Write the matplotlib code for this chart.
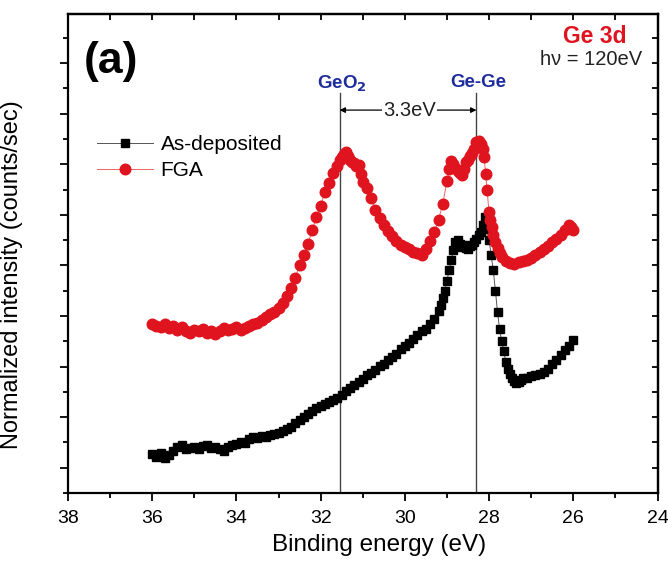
import matplotlib
matplotlib.use('Agg')
from matplotlib import pyplot as plt
from matplotlib.ticker import MultipleLocator, NullFormatter

plt.rcParams['font.family'] = ['Liberation Sans', 'DejaVu Sans']

# As-deposited (binding energy eV, normalized intensity a.u.)
asdep_e = [36.00, 35.90, 35.80, 35.70, 35.60, 35.50, 35.40, 35.30, 35.20, 35.10,
           35.00, 34.90, 34.80, 34.70, 34.60, 34.50, 34.40, 34.30, 34.20, 34.10,
           34.00, 33.90, 33.80, 33.70, 33.60, 33.50, 33.40, 33.30, 33.20, 33.10,
           33.00, 32.90, 32.80, 32.70, 32.60, 32.50, 32.40, 32.30, 32.20, 32.10,
           32.00, 31.90, 31.80, 31.70, 31.60, 31.50, 31.40, 31.30, 31.20, 31.10,
           31.00, 30.90, 30.80, 30.70, 30.60, 30.50, 30.40, 30.30, 30.20, 30.10,
           30.00, 29.90, 29.80, 29.70, 29.60, 29.50, 29.40, 29.30, 29.20, 29.15,
           29.10, 29.05, 29.00, 28.95, 28.90, 28.85, 28.80, 28.75, 28.70, 28.65,
           28.60, 28.55, 28.50, 28.45, 28.40, 28.35, 28.30, 28.25, 28.20, 28.15,
           28.10, 28.05, 28.00, 27.95, 27.90, 27.85, 27.80, 27.75, 27.70, 27.65,
           27.60, 27.55, 27.50, 27.45, 27.40, 27.35, 27.30, 27.25, 27.20, 27.10,
           27.00, 26.90, 26.80, 26.70, 26.60, 26.50, 26.40, 26.30, 26.20, 26.10,
           26.00]
asdep_i = [0.28, 0.22, 0.30, 0.20, 0.26, 0.34, 0.40, 0.44, 0.36, 0.38,
           0.40, 0.36, 0.42, 0.44, 0.38, 0.40, 0.36, 0.34, 0.40, 0.44,
           0.46, 0.50, 0.48, 0.56, 0.60, 0.58, 0.62, 0.60, 0.64, 0.66,
           0.68, 0.72, 0.76, 0.80, 0.88, 0.94, 1.00, 1.06, 1.12, 1.18,
           1.22, 1.26, 1.30, 1.34, 1.38, 1.44, 1.52, 1.58, 1.64, 1.70,
           1.76, 1.83, 1.88, 1.94, 2.02, 2.06, 2.12, 2.18, 2.24, 2.34,
           2.40, 2.46, 2.54, 2.62, 2.70, 2.74, 2.84, 2.94, 3.10, 3.22,
           3.36, 3.50, 3.70, 3.90, 4.10, 4.30, 4.46, 4.50, 4.42, 4.36,
           4.40, 4.34, 4.32, 4.38, 4.40, 4.46, 4.52, 4.60, 4.66, 4.80,
           4.95, 4.72, 4.50, 4.20, 3.90, 3.50, 3.08, 2.74, 2.50, 2.30,
           2.08, 1.95, 1.86, 1.78, 1.72, 1.68, 1.70, 1.74, 1.78, 1.78,
           1.82, 1.84, 1.86, 1.90, 1.96, 2.06, 2.12, 2.22, 2.32, 2.40,
           2.52]

# FGA
fga_e = [36.00, 35.90, 35.80, 35.70, 35.60, 35.50, 35.40, 35.30, 35.20, 35.10,
         35.00, 34.90, 34.80, 34.70, 34.60, 34.50, 34.40, 34.30, 34.20, 34.10,
         34.00, 33.90, 33.80, 33.70, 33.60, 33.50, 33.40, 33.30, 33.20, 33.10,
         33.00, 32.90, 32.80, 32.70, 32.60, 32.50, 32.40, 32.30, 32.20, 32.10,
         32.00, 31.90, 31.80, 31.70, 31.60, 31.55, 31.50, 31.45, 31.40, 31.35,
         31.30, 31.25, 31.20, 31.15, 31.10, 31.05, 31.00, 30.90, 30.80, 30.70,
         30.60, 30.50, 30.40, 30.30, 30.20, 30.10, 30.00, 29.90, 29.80, 29.70,
         29.60, 29.50, 29.40, 29.30, 29.20, 29.10, 29.00, 28.95, 28.90, 28.85,
         28.80, 28.75, 28.70, 28.65, 28.60, 28.55, 28.50, 28.45, 28.40, 28.35,
         28.30, 28.25, 28.20, 28.15, 28.12, 28.08, 28.05, 28.00, 27.97, 27.94,
         27.90, 27.85, 27.80, 27.75, 27.70, 27.60, 27.50, 27.40, 27.30, 27.20,
         27.10, 27.00, 26.90, 26.80, 26.70, 26.60, 26.50, 26.40, 26.30, 26.20,
         26.10, 26.05, 26.00]
fga_i = [2.85, 2.80, 2.78, 2.84, 2.76, 2.80, 2.72, 2.78, 2.70, 2.66,
         2.72, 2.70, 2.74, 2.66, 2.70, 2.64, 2.70, 2.76, 2.72, 2.74,
         2.78, 2.72, 2.76, 2.80, 2.84, 2.86, 2.92, 2.98, 3.04, 3.08,
         3.16, 3.26, 3.40, 3.56, 3.76, 4.00, 4.20, 4.42, 4.70, 4.95,
         5.18, 5.45, 5.62, 5.82, 5.96, 6.08, 6.14, 6.20, 6.24, 6.16,
         6.08, 6.04, 6.02, 5.96, 5.98, 5.80, 5.64, 5.52, 5.34, 5.10,
         4.94, 4.80, 4.68, 4.58, 4.48, 4.40, 4.36, 4.32, 4.26, 4.24,
         4.20, 4.32, 4.48, 4.66, 4.90, 5.22, 5.66, 5.90, 6.06, 6.00,
         5.92, 5.86, 5.82, 5.78, 5.90, 6.04, 6.08, 6.16, 6.22, 6.30,
         6.44, 6.46, 6.40, 6.30, 6.15, 5.80, 5.50, 5.05, 4.90, 4.76,
         4.60, 4.46, 4.34, 4.24, 4.16, 4.08, 4.04, 4.02, 4.06, 4.08,
         4.10, 4.14, 4.20, 4.26, 4.32, 4.38, 4.46, 4.52, 4.60, 4.70,
         4.80, 4.76, 4.70]

geo2_e = 31.55
gege_e = 28.30
shift_label = '3.3eV'

red = '#e0141e'
blue = '#1f2c9c'

fig = plt.figure(figsize=(6.68, 5.64), dpi=100)
ax = fig.add_axes([0.1018, 0.1259, 0.8825, 0.8493])

ax.plot(asdep_e, asdep_i, color='#555555', lw=0.7, marker='s', ms=6.2,
        mfc='black', mec='black', label='As-deposited', zorder=3)
ax.plot(fga_e, fga_i, color='#ee6666', lw=0.7, marker='o', ms=7.6,
        mfc=red, mec=red, label='FGA', zorder=3)

ax.set_xlim(38, 24)
ax.set_ylim(-0.5, 8.97)

# peak position markers
ax.plot([geo2_e, geo2_e], [-0.5, 7.40], color='#444444', lw=1.0, zorder=2)
ax.plot([gege_e, gege_e], [-0.5, 7.40], color='#444444', lw=1.0, zorder=2)
mid = (geo2_e + gege_e) / 2
ax.annotate('', xy=(geo2_e, 7.07), xytext=(mid, 7.07),
            arrowprops=dict(arrowstyle='-|>', color='black', lw=0.9,
                            shrinkA=0, shrinkB=0, mutation_scale=8))
ax.annotate('', xy=(gege_e, 7.07), xytext=(mid, 7.07),
            arrowprops=dict(arrowstyle='-|>', color='black', lw=0.9,
                            shrinkA=0, shrinkB=0, mutation_scale=8))
ax.text(mid - 0.03, 7.07, shift_label, ha='center', va='center', fontsize=14.5,
        color='#222222', bbox=dict(facecolor='white', edgecolor='none', pad=1))
ax.text(geo2_e - 0.05, 7.58, 'GeO$_\\mathbf{2}$', ha='center', va='center',
        fontsize=13.5, fontweight='bold', color=blue)
ax.text(gege_e - 0.05, 7.62, 'Ge-Ge', ha='center', va='center',
        fontsize=13.5, fontweight='bold', color=blue)

ax.text(0.027, 0.9, '(a)', transform=ax.transAxes, fontsize=32,
        fontweight='bold', ha='left', va='center')
ax.text(0.948, 0.952, 'Ge 3d', transform=ax.transAxes, fontsize=16.5,
        fontweight='bold', color=red, ha='right', va='center')
ax.text(0.974, 0.906, 'h\u03bd = 120eV', transform=ax.transAxes, fontsize=14.5,
        color='#222222', ha='right', va='center')

leg = ax.legend(loc='upper left', bbox_to_anchor=(0.035, 0.765), frameon=False,
                fontsize=15, handlelength=2.7, handletextpad=0.35,
                labelspacing=0.35, borderaxespad=0)

ax.set_xlabel('Binding energy (eV)', fontsize=17.5)
ax.xaxis.set_label_coords(0.528, -0.085)
ax.set_ylabel('Normalized intensity (counts/sec)', fontsize=17)
ax.yaxis.set_label_coords(-0.076, 0.455)

ax.xaxis.set_major_locator(MultipleLocator(2))
ax.xaxis.set_minor_locator(MultipleLocator(1))
ax.yaxis.set_major_locator(MultipleLocator(1))
ax.yaxis.set_minor_locator(MultipleLocator(0.5))
ax.yaxis.set_major_formatter(NullFormatter())
ax.tick_params(which='major', direction='out', length=6, width=1.3,
               labelsize=14, pad=6)
ax.tick_params(which='minor', direction='out', length=3.5, width=1.3)

for s in ax.spines.values():
    s.set_linewidth(1.6)

top = ax.secondary_xaxis('top')
top.xaxis.set_major_locator(MultipleLocator(1))
top.tick_params(direction='in', length=4, width=1.3, labeltop=False)
top.spines['top'].set_linewidth(1.6)
right = ax.secondary_yaxis('right')
right.yaxis.set_major_locator(MultipleLocator(0.5))
right.tick_params(direction='in', length=4, width=1.3, labelright=False)
right.spines['right'].set_linewidth(1.6)

fig.savefig('out.png', dpi=100)
